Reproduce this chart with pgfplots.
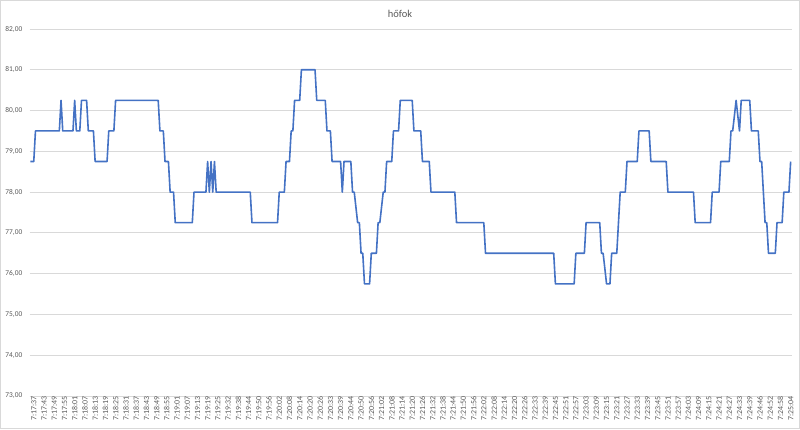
\documentclass[border=0pt]{standalone}
\usepackage{fontspec}
\setmainfont{Carlito}
\usepackage{pgfplots}
\pgfplotsset{compat=1.18}
\definecolor{linecol}{HTML}{4472C4}
\definecolor{txt}{HTML}{595959}
\definecolor{gridc}{HTML}{D9D9D9}
\begin{document}
\begin{tikzpicture}[x=1pt,y=1pt]
\useasboundingbox (0,0) rectangle (800,429);
\draw[gridc, line width=0.8pt] (0.4,0.4) rectangle (799.6,428.6);
\begin{axis}[
  at={(29.5pt,33pt)}, anchor=south west,
  scale only axis, width=762pt, height=367pt,
  xmin=-0.5, xmax=446.5, ymin=73, ymax=82,
  ytick={73,74,...,82},
  xtick={0,6,...,444},
  xticklabels={7:17:37,7:17:43,7:17:49,7:17:55,7:18:01,7:18:07,7:18:13,7:18:19,7:18:25,7:18:31,7:18:37,7:18:43,7:18:49,7:18:55,7:19:01,7:19:07,7:19:13,7:19:19,7:19:25,7:19:32,7:19:38,7:19:44,7:19:50,7:19:56,7:20:02,7:20:08,7:20:14,7:20:20,7:20:26,7:20:33,7:20:39,7:20:44,7:20:50,7:20:56,7:21:02,7:21:08,7:21:14,7:21:20,7:21:26,7:21:32,7:21:38,7:21:44,7:21:50,7:21:56,7:22:02,7:22:08,7:22:14,7:22:20,7:22:26,7:22:33,7:22:39,7:22:45,7:22:51,7:22:57,7:23:03,7:23:09,7:23:15,7:23:21,7:23:27,7:23:33,7:23:39,7:23:45,7:23:51,7:23:57,7:24:03,7:24:09,7:24:15,7:24:21,7:24:27,7:24:33,7:24:39,7:24:46,7:24:52,7:24:58,7:25:04},
  /pgf/number format/assume math mode=true,
  yticklabel style={/pgf/number format/fixed, /pgf/number format/fixed zerofill, /pgf/number format/precision=2, /pgf/number format/use comma},
  y tick label style={font=\fontsize{7.4}{8}\selectfont, color=txt, anchor=east, inner sep=0pt, xshift=-7pt},
  x tick label style={font=\fontsize{7.9}{9}\selectfont, color=txt, rotate=90, anchor=east, inner sep=0pt, yshift=-3.5pt},
  major tick length=0pt,
  axis line style={draw=none},
  ymajorgrids, major grid style={gridc, line width=0.8pt},
  title={hőfok},
  title style={font=\fontsize{10.5}{12}\selectfont, color=txt, at={(0.5,1)}, anchor=base, yshift=5.5pt, xshift=-10.5pt},
]
\addplot[linecol, line width=1.6pt, line join=round] coordinates {
(0,78.75) (2,78.75) (3,79.5) (17,79.5) (18,80.25) (19,79.5) (25,79.5) (26,80.25) (27,79.5) (29,79.5)
(30,80.25) (33,80.25) (34,79.5) (37,79.5) (38,78.75) (45,78.75) (46,79.5) (49,79.5) (50,80.25) (75,80.25)
(76,79.5) (78,79.5) (79,78.75) (81,78.75) (82,78) (84,78) (85,77.25) (95,77.25) (96,78) (103,78)
(104,78.75) (105,78) (106,78.75) (107,78) (108,78.75) (109,78) (129,78) (130,77.25) (145,77.25) (146,78)
(149,78) (150,78.75) (152,78.75) (153,79.5) (154,79.5) (155,80.25) (158,80.25) (159,81) (167,81) (168,80.25)
(173,80.25) (174,79.5) (176,79.5) (177,78.75) (182,78.75) (183,78) (184,78.75) (188,78.75) (189,78) (190,78)
(192,77.25) (193,77.25) (194,76.5) (195,76.5) (196,75.75) (199,75.75) (200,76.5) (203,76.5) (204,77.25) (205,77.25)
(207,78) (208,78) (209,78.75) (212,78.75) (213,79.5) (216,79.5) (217,80.25) (224,80.25) (225,79.5) (229,79.5)
(230,78.75) (234,78.75) (235,78) (249,78) (250,77.25) (266,77.25) (267,76.5) (307,76.5) (308,75.75) (319,75.75)
(320,76.5) (325,76.5) (326,77.25) (334,77.25) (335,76.5) (336,76.5) (338,75.75) (340,75.75) (341,76.5) (344,76.5)
(345,77.25) (346,78) (349,78) (350,78.75) (356,78.75) (357,79.5) (363,79.5) (364,78.75) (373,78.75) (374,78)
(389,78) (390,77.25) (399,77.25) (400,78) (404,78) (405,78.75) (410,78.75) (411,79.5) (412,79.5) (414,80.25)
(416,79.5) (417,80.25) (422,80.25) (423,79.5) (427,79.5) (428,78.75) (429,78.75) (430,78) (431,77.25) (432,77.25) (433,76.5) (437,76.5)
(438,77.25) (441,77.25) (442,78) (445,78) (446,78.75)
};
\end{axis}
\end{tikzpicture}
\end{document}
